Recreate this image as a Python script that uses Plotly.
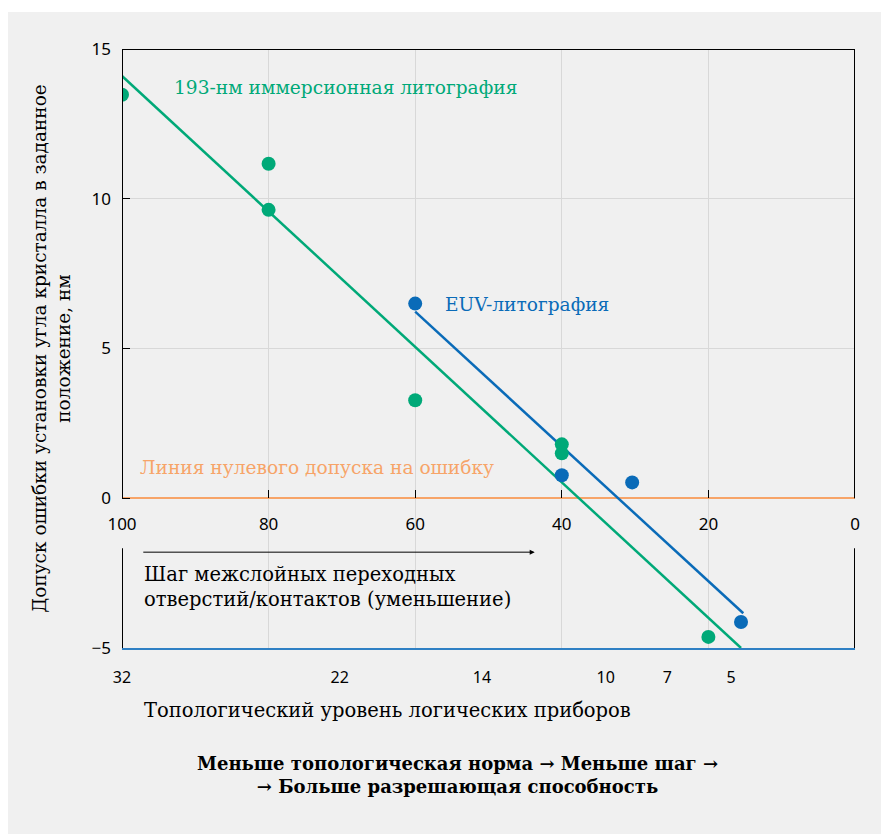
import plotly.graph_objects as go

# ---- data ----
imm_x = [100, 80, 80, 60, 40, 40, 20]
imm_y = [13.47, 11.17, 9.63, 3.27, 1.8, 1.5, -4.63]
imm_fit_x = [100, 15.55]
imm_fit_y = [14.1, -5.0]

euv_x = [60, 40, 30.4, 15.55]
euv_y = [6.5, 0.77, 0.53, -4.13]
euv_fit_x = [60, 15.24]
euv_fit_y = [6.23, -3.84]

pitch_ticks = [100, 80, 60, 40, 20, 0]
node_tick_pos = [100, 70.3, 50.9, 34, 25.6, 16.9]
node_tick_text = ["32", "22", "14", "10", "7", "5"]
y_ticks = [-5, 0, 5, 10, 15]

GREEN = "#00a978"
BLUE = "#0a6bb8"
ORANGE = "#f7a468"
BG = "#f0f0f0"
GRID = "#d8d8d8"
SERIF = "DejaVu Serif"
SANS = "Noto Sans"

W, H = 881, 826
ML, MR, MT, MB = 114, 34, 41, 186
PW, PH = W - ML - MR, H - MT - MB

fig = go.Figure()

fig.add_trace(go.Scatter(x=imm_fit_x, y=imm_fit_y, mode="lines",
                         line=dict(color=GREEN, width=2.5), showlegend=False, hoverinfo="skip"))
fig.add_trace(go.Scatter(x=euv_fit_x, y=euv_fit_y, mode="lines",
                         line=dict(color=BLUE, width=2.5), showlegend=False, hoverinfo="skip"))
fig.add_trace(go.Scatter(x=imm_x, y=imm_y, mode="markers",
                         marker=dict(color=GREEN, size=14), showlegend=False))
fig.add_trace(go.Scatter(x=euv_x, y=euv_y, mode="markers",
                         marker=dict(color=BLUE, size=14), showlegend=False))
# helper trace so the node axis is drawn
fig.add_trace(go.Scatter(x=[node_tick_pos[0]], y=[None], xaxis="x2", mode="markers",
                         showlegend=False, hoverinfo="skip"))

shapes = [
    dict(type="rect", xref="paper", yref="paper", layer="below",
         x0=-ML / PW, x1=(W - ML) / PW + 0.01,
         y0=-(MB + 10) / PH, y1=(PH + MT - 4) / PH,
         fillcolor=BG, line=dict(width=0)),
]
frame = dict(color="black", width=2)
shapes.append(dict(type="line", xref="x", yref="y", x0=100, x1=0, y0=15, y1=15, line=frame, layer="above"))
for xv in (100, 0):
    shapes.append(dict(type="line", xref="x", yref="y", x0=xv, x1=xv, y0=15, y1=0, line=frame, layer="above"))
    shapes.append(dict(type="line", xref="x", yref="y", x0=xv, x1=xv, y0=-1.67, y1=-5, line=frame, layer="above"))

annos = [
    dict(x=93.2, y=13.7, xref="x", yref="y", text="193-нм иммерсионная литография",
         xanchor="left", yanchor="middle", showarrow=False,
         font=dict(family=SERIF, size=18.6, color=GREEN)),
    dict(x=56.2, y=6.47, xref="x", yref="y", text="EUV-литография",
         xanchor="left", yanchor="middle", showarrow=False,
         font=dict(family=SERIF, size=18.6, color=BLUE)),
    dict(x=97.8, y=1.03, xref="x", yref="y", text="Линия нулевого допуска на ошибку",
         xanchor="left", yanchor="middle", showarrow=False,
         font=dict(family=SERIF, size=18.6, color=ORANGE)),
    dict(x=43.7, y=-1.8, ax=97.3, ay=-1.8, xref="x", yref="y", axref="x", ayref="y",
         text="", showarrow=True, arrowhead=2, arrowsize=1, arrowwidth=1, arrowcolor="black"),
    dict(x=97.3, y=-2.08, xref="x", yref="y",
         text="Шаг межслойных переходных<br>отверстий/контактов (уменьшение)",
         xanchor="left", yanchor="top", align="left", showarrow=False,
         font=dict(family=SERIF, size=19.5, color="black")),
    dict(x=20 / PW, y=-62 / PH, xref="paper", yref="paper",
         text="Топологический уровень логических приборов",
         xanchor="left", yanchor="middle", showarrow=False,
         font=dict(family=SERIF, size=19.5, color="black")),
    dict(x=335 / PW, y=-127 / PH, xref="paper", yref="paper",
         text="<b>Меньше топологическая норма → Меньше шаг →<br>→ Больше разрешающая способность</b>",
         xanchor="center", yanchor="middle", align="center", showarrow=False,
         font=dict(family=SERIF, size=18, color="black")),
]

fig.update_layout(
    width=W, height=H,
    margin=dict(l=ML, r=MR, t=MT, b=MB),
    paper_bgcolor="white",
    plot_bgcolor=BG,
    showlegend=False,
    annotations=annos,
    shapes=shapes,
    xaxis=dict(range=[100, 0], anchor="free", position=0.25,
               tickvals=pitch_ticks, ticks="inside", ticklen=8, tickcolor="black",
               tickfont=dict(family=SANS, size=17, color="black"),
               ticklabelstandoff=14,
               showgrid=True, gridcolor=GRID, gridwidth=1,
               zeroline=False, showline=False),
    xaxis2=dict(range=[100, 0], overlaying="x", anchor="y", side="bottom",
                tickvals=node_tick_pos, ticktext=node_tick_text, ticks="",
                tickfont=dict(family=SANS, size=16, color="black"),
                ticklabelstandoff=14,
                showgrid=False, zeroline=False,
                showline=True, linecolor="#2f80c4", linewidth=2),
    yaxis=dict(range=[-5, 15], tickvals=y_ticks, ticks="inside", ticklen=8, tickcolor="black",
               tickfont=dict(family=SANS, size=17, color="black"),
               ticklabelstandoff=10,
               showgrid=True, gridcolor=GRID, gridwidth=1,
               zeroline=True, zerolinecolor=ORANGE, zerolinewidth=2,
               showline=False,
               title=dict(text="Допуск ошибки установки угла кристалла в заданное<br>положение, нм",
                          font=dict(family=SERIF, size=18.5, color="black"), standoff=16)),
)

fig.write_html("out.html")
